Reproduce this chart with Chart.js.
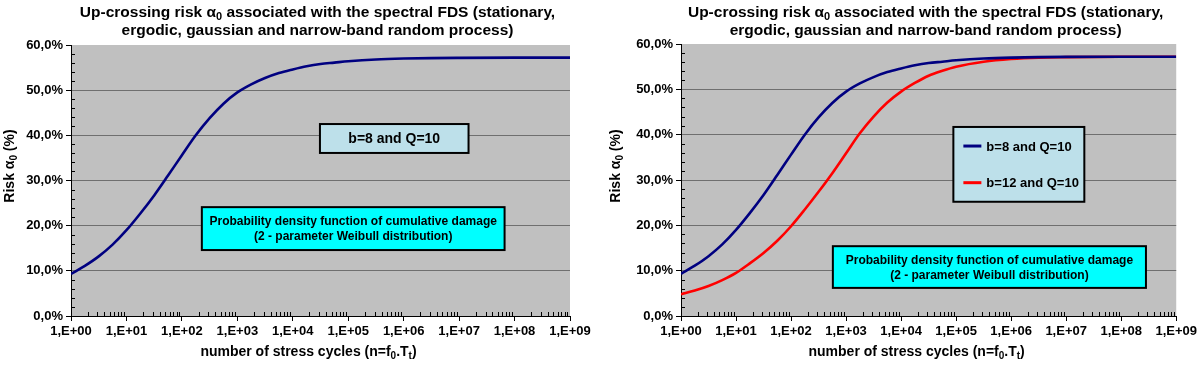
<!DOCTYPE html>
<html><head><meta charset="utf-8">
<script src="https://cdn.jsdelivr.net/npm/chart.js@4.4.1/dist/chart.umd.min.js"></script>
<style>
html,body{margin:0;padding:0;background:#fff;}
#wrap{display:flex;width:1200px;height:365px;}
.c{position:relative;width:600px;height:365px;}
canvas{display:block;}
</style></head><body>
<div id="wrap"><div class="c"><canvas id="c1" width="600" height="365"></canvas></div><div class="c"><canvas id="c2" width="600" height="365"></canvas></div></div>
<script>
// ---- data ----
const cycleExponents = [0, 0.25, 0.5, 0.75, 1, 1.25, 1.5, 1.75, 2, 2.25, 2.5, 2.75, 3, 3.25, 3.5, 3.75, 4, 4.25, 4.5, 4.75, 5, 5.5, 6, 6.5, 7, 8, 9];
const riskB8Q10  = [9.3, 11.1, 13.2, 15.8, 19.0, 22.7, 26.7, 31.1, 35.6, 40.0, 43.8, 47.0, 49.5, 51.3, 52.7, 53.8, 54.6, 55.3, 55.8, 56.1, 56.4, 56.8, 57.0, 57.1, 57.15, 57.2, 57.2];
const riskB12Q10 = [4.8, 5.6, 6.6, 7.9, 9.5, 11.6, 13.9, 16.6, 19.8, 23.5, 27.4, 31.5, 35.9, 40.3, 44.0, 47.1, 49.5, 51.4, 53.0, 54.1, 55.0, 56.1, 56.7, 57.0, 57.1, 57.2, 57.2];
const seriesNames = ['b=8 and Q=10', 'b=12 and Q=10'];
const xTickValues = [1, 1e1, 1e2, 1e3, 1e4, 1e5, 1e6, 1e7, 1e8, 1e9];
const xTickLabels = ['1,E+00','1,E+01','1,E+02','1,E+03','1,E+04','1,E+05','1,E+06','1,E+07','1,E+08','1,E+09'];
const yTickValues = [0, 10, 20, 30, 40, 50, 60];
const titleLine1 = [{t:'Up-crossing risk α'},{t:'0',sub:true},{t:' associated with the spectral FDS (stationary,'}];
const titleLine2 = [{t:'ergodic, gaussian and narrow-band random process)'}];
const xTitle = [{t:'number of stress cycles (n=f'},{t:'0',sub:true},{t:'.T'},{t:'t',sub:true},{t:')'}];
const yTitle = [{t:'Risk α'},{t:'0',sub:true},{t:' (%)'}];
const noteText = ['Probability density function of cumulative damage','(2 - parameter Weibull distribution)'];

const FONT = '"Liberation Sans", Arial, sans-serif';
const BLUE = '#000080', RED = '#ff0000', PLOT_BG = '#c0c0c0';

function pts(vals){ return cycleExponents.map((e,i)=>({x:Math.pow(10,e), y:vals[i]})); }

function richWidth(ctx, parts, size){
  let w=0; for(const p of parts){ ctx.font='bold '+(p.sub?Math.round(size*0.68):size)+'px '+FONT; w+=ctx.measureText(p.t).width; } return w;
}
function drawRich(ctx, parts, cx, y, size){
  let x = cx - richWidth(ctx, parts, size)/2;
  ctx.textAlign='left'; ctx.textBaseline='alphabetic'; ctx.fillStyle='#000';
  for(const p of parts){
    const s = p.sub?Math.round(size*0.68):size;
    ctx.font='bold '+s+'px '+FONT;
    ctx.fillText(p.t, x, p.sub? y+size*0.22 : y);
    x += ctx.measureText(p.t).width;
  }
}

function makeDecor(cfg){
  return {
    id:'decor',
    beforeDraw(chart){
      const {ctx, chartArea:a} = chart;
      ctx.save(); ctx.fillStyle=PLOT_BG; ctx.fillRect(a.left,a.top,a.right-a.left,a.bottom-a.top); ctx.restore();
    },
    afterDraw(chart){
      const {ctx, chartArea:a} = chart;
      const xs = chart.scales.x, ys = chart.scales.y;
      ctx.save();
      // minor ticks
      ctx.strokeStyle='#000'; ctx.lineWidth=1;
      ctx.beginPath();
      for(let v=0; v<=60; v+=2){ if(v%10===0) continue; const y=Math.round(ys.getPixelForValue(v))+0.5; ctx.moveTo(a.left, y); ctx.lineTo(a.left+4, y); }
      for(let k=0;k<9;k++){ for(let m=2;m<=9;m++){ const x=Math.round(xs.getPixelForValue(m*Math.pow(10,k)))+0.5; ctx.moveTo(x,a.bottom); ctx.lineTo(x,a.bottom-4);} }
      ctx.stroke();
      // titles
      const cx = (a.left+a.right)/2;
      drawRich(ctx, titleLine1, cx-3, 17, 15.5);
      drawRich(ctx, titleLine2, cx-3, 35, 15.5);
      drawRich(ctx, xTitle, cx-12, 356, 14);
      ctx.save(); ctx.translate(cfg.yTitleX, 166); ctx.rotate(-Math.PI/2);
      drawRich(ctx, yTitle, 0, 5, 14); ctx.restore();
      // boxes
      for(const b of cfg.boxes){
        const x0=xs.getPixelForValue(Math.pow(10,b.x0)), x1=xs.getPixelForValue(Math.pow(10,b.x1));
        const y0=ys.getPixelForValue(b.y1), y1=ys.getPixelForValue(b.y0);
        ctx.fillStyle=b.fill; ctx.fillRect(x0,y0,x1-x0,y1-y0);
        ctx.strokeStyle='#000'; ctx.lineWidth=2; ctx.strokeRect(x0,y0,x1-x0,y1-y0);
        ctx.fillStyle='#000'; ctx.textBaseline='middle';
        if(b.legend){
          chart.data.datasets.forEach((ds,i)=>{
            const yy = y0 + (y1-y0)*(i===0?0.255:0.745);
            ctx.strokeStyle=ds.borderColor; ctx.lineWidth=3;
            ctx.beginPath(); ctx.moveTo(x0+10,yy); ctx.lineTo(x0+28,yy); ctx.stroke();
            ctx.fillStyle='#000'; ctx.font='bold 13px '+FONT; ctx.textAlign='left';
            ctx.fillText(ds.label, x0+33, yy+1);
          });
        } else {
          ctx.font='bold '+b.size+'px '+FONT; ctx.textAlign='center';
          const n=b.lines.length, lh=b.size*1.25, mid=(y0+y1)/2;
          b.lines.forEach((t,i)=>ctx.fillText(t,(x0+x1)/2, mid+(i-(n-1)/2)*lh+1));
        }
      }
      ctx.restore();
    }
  };
}

function makeChart(id, datasets, cfg){
  return new Chart(document.getElementById(id), {
    type:'line',
    data:{datasets},
    options:{
      responsive:false, animation:false,
      layout:{padding:{left:0,right:cfg.padRight,top:cfg.top,bottom:25}},
      plugins:{legend:{display:false},title:{display:false},tooltip:{enabled:false}},
      elements:{point:{radius:0}, line:{borderWidth:2.6, cubicInterpolationMode:'monotone'}},
      scales:{
        x:{type:'logarithmic', min:1, max:1e9,
          afterBuildTicks:(s)=>{ s.ticks = xTickValues.map(v=>({value:v})); },
          afterFit:(s)=>{ s.height=24; },
          ticks:{autoSkip:false, maxRotation:0, padding:3, color:'#000', font:{family:FONT,size:13,weight:'bold'},
            callback:(v,i)=>xTickLabels[i]},
          grid:{drawOnChartArea:false, drawTicks:true, tickLength:5, color:'#000', tickColor:'#000'},
          border:{display:true,color:'#000',width:1}
        },
        y:{min:0,max:60,
          afterBuildTicks:(s)=>{ s.ticks = yTickValues.map(v=>({value:v})); },
          afterFit:(s)=>{ s.width=cfg.yWidth; },
          ticks:{padding:3,color:'#000',font:{family:FONT,size:13,weight:'bold'},
            callback:(v)=>v.toFixed(1).replace('.',',')+'%'},
          grid:{color:(c)=>c.tick && c.tick.value===60?'rgba(0,0,0,0)':'#6f6f6f', lineWidth:1, tickLength:5, tickColor:'#000'},
          border:{display:true,color:'#000',width:1}
        }
      }
    },
    plugins:[makeDecor(cfg)]
  });
}

makeChart('c1', [
  {label:seriesNames[0], data:pts(riskB8Q10), borderColor:BLUE, backgroundColor:BLUE, fill:false}
], {padRight:30, top:45, yWidth:71, yTitleX:9,
  boxes:[
    {x0:4.49,x1:7.17,y0:36.1,y1:42.5,fill:'#bde0ea',lines:[seriesNames[0]],size:14},
    {x0:2.36,x1:7.82,y0:14.6,y1:24.1,fill:'#00ffff',lines:noteText,size:12}
  ]});

makeChart('c2', [
  {label:seriesNames[0], data:pts(riskB8Q10), borderColor:BLUE, backgroundColor:BLUE, fill:false},
  {label:seriesNames[1], data:pts(riskB12Q10), borderColor:RED, backgroundColor:RED, fill:false}
], {padRight:19, top:44, yWidth:81, yTitleX:15,
  boxes:[
    {x0:4.95,x1:7.33,y0:25.2,y1:41.7,fill:'#bde0ea',legend:true},
    {x0:2.76,x1:8.45,y0:6.2,y1:15.4,fill:'#00ffff',lines:noteText,size:12}
  ]});
</script>
</body></html>
